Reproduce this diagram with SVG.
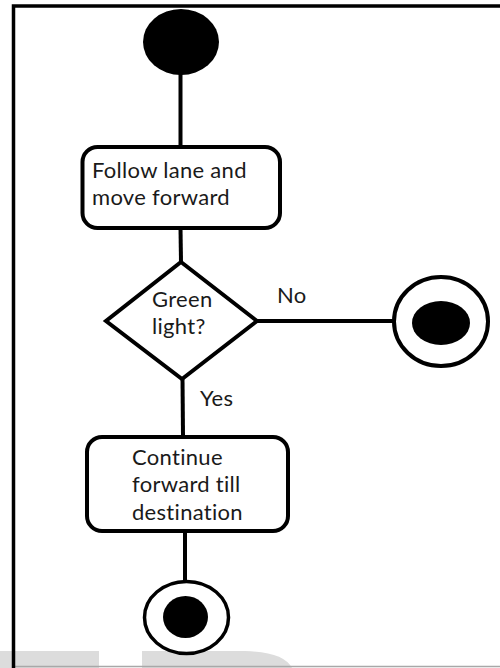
<svg xmlns="http://www.w3.org/2000/svg" width="500" height="668" viewBox="0 0 500 668">
<style>
.ln{stroke:#000;stroke-width:4;fill:none}
.act{fill:#fff;stroke:#000;stroke-width:4}
.t{font-family:Lato,"Open Sans","Liberation Sans",sans-serif;font-size:22px;letter-spacing:0.3px;fill:#1a1a1a}
</style>
<rect width="500" height="668" fill="#fff"/>
<g id="watermark" fill="#dcdcdc">
<rect x="0" y="651" width="99" height="17"/>
<path d="M142,651 H245 Q284,652 292,668 H142 Z"/>
</g>
<line x1="15" y1="666.5" x2="500" y2="666.5" stroke="#a8a8a8" stroke-width="1.5"/>
<path id="frame" d="M13.5,668 V6 H500" fill="none" stroke="#000" stroke-width="3.5"/>
<g id="connectors" class="ln">
<line x1="180.5" y1="74" x2="180.5" y2="148"/>
<line x1="180.5" y1="228" x2="181" y2="262"/>
<line x1="257" y1="321" x2="393" y2="321"/>
<line x1="182.5" y1="378" x2="183" y2="436"/>
<line x1="185" y1="532" x2="185" y2="582"/>
</g>
<g id="start"><ellipse cx="181" cy="42" rx="38" ry="33" fill="#000"/></g>
<g id="follow">
<rect class="act" x="82.5" y="147" width="197.5" height="81" rx="15"/>
<text class="t" x="92" y="178">Follow lane and</text>
<text class="t" x="92" y="205">move forward</text>
</g>
<g id="decision">
<polygon class="act" points="181,262 257,321 182,379 106,321"/>
<text class="t" x="152" y="307">Green</text>
<text class="t" x="152" y="334">light?</text>
</g>
<text id="lblNo" class="t" x="277" y="303">No</text>
<text id="lblYes" class="t" x="200" y="406">Yes</text>
<g id="endNo">
<ellipse cx="441" cy="321.5" rx="47" ry="44.5" fill="#fff" stroke="#000" stroke-width="4"/>
<ellipse cx="441" cy="323" rx="29" ry="22" fill="#000"/>
</g>
<g id="continue">
<rect class="act" x="87" y="437" width="201" height="94" rx="15"/>
<text class="t" x="132" y="465">Continue</text>
<text class="t" x="132" y="492">forward till</text>
<text class="t" x="132" y="520">destination</text>
</g>
<g id="endFinal">
<ellipse cx="186.5" cy="617.5" rx="42" ry="36" fill="#fff" stroke="#000" stroke-width="3.5"/>
<ellipse cx="185.5" cy="617" rx="22.5" ry="21" fill="#000"/>
</g>
</svg>
